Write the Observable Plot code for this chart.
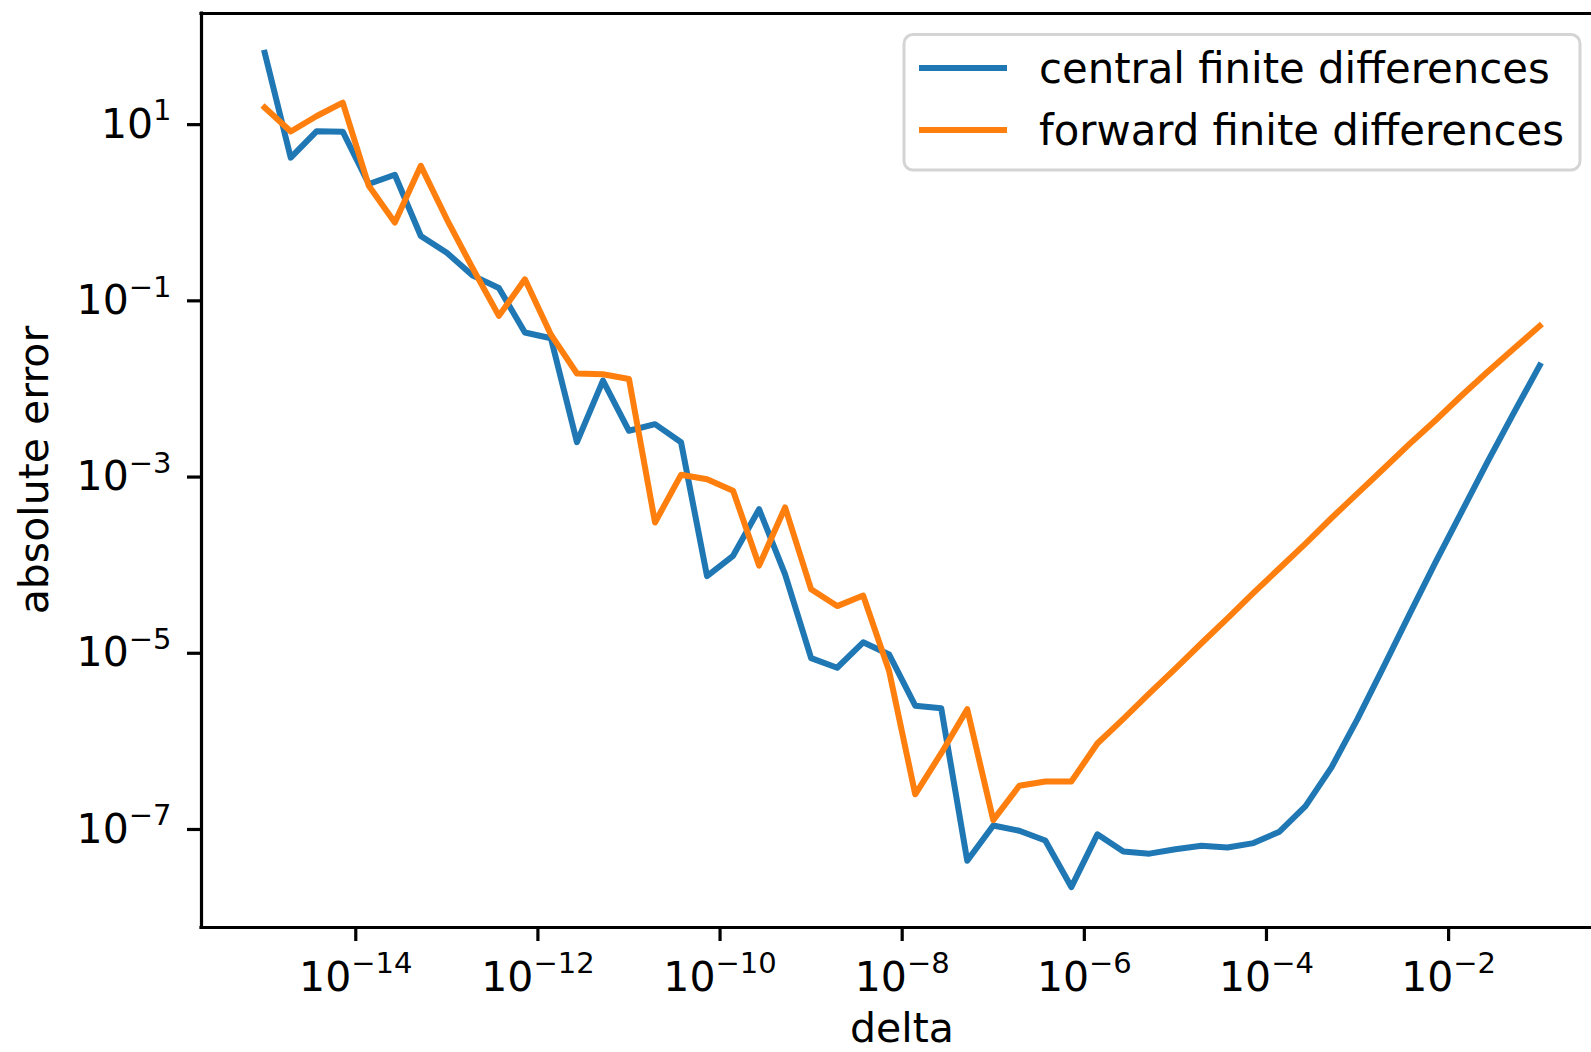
<!DOCTYPE html>
<html><head><meta charset="utf-8">
<script src="https://cdn.jsdelivr.net/npm/d3@7"></script>
<script src="https://cdn.jsdelivr.net/npm/@observablehq/plot@0.6"></script>
<style>
html,body{margin:0;padding:0;background:#fff;}
#chart{position:relative;width:1591px;height:1052px;overflow:hidden;}
svg{display:block;}
</style></head><body><div id="chart"></div>
<script>
// step sizes (delta), 50 points from 1e-15 to 1e-1
const delta = [
  1e-15, 1.931e-15, 3.728e-15, 7.197e-15, 1.390e-14, 2.683e-14, 5.179e-14,
  1e-13, 1.931e-13, 3.728e-13, 7.197e-13, 1.390e-12, 2.683e-12, 5.179e-12,
  1e-11, 1.931e-11, 3.728e-11, 7.197e-11, 1.390e-10, 2.683e-10, 5.179e-10,
  1e-9, 1.931e-9, 3.728e-9, 7.197e-9, 1.390e-8, 2.683e-8, 5.179e-8,
  1e-7, 1.931e-7, 3.728e-7, 7.197e-7, 1.390e-6, 2.683e-6, 5.179e-6,
  1e-5, 1.931e-5, 3.728e-5, 7.197e-5, 1.390e-4, 2.683e-4, 5.179e-4,
  1e-3, 1.931e-3, 3.728e-3, 7.197e-3, 1.390e-2, 2.683e-2, 5.179e-2,
  1e-1
];
// absolute error, central finite differences
const central = [
  58.9, 3.80, 7.59, 7.50, 1.91, 2.43, 0.490,
  0.316, 0.174, 0.126, 0.0394, 0.0339, 0.00224, 0.0112,
  0.00302, 0.00359, 0.00224, 6.76e-5, 1.15e-4, 3.89e-4, 7.08e-5,
  7.94e-6, 6.17e-6, 1.20e-5, 8.71e-6, 2.29e-6, 2.14e-6, 3.98e-8,
  1.00e-7, 8.71e-8, 6.76e-8, 2.00e-8, 7.94e-8, 5.07e-8, 4.79e-8,
  5.37e-8, 5.89e-8, 5.62e-8, 6.31e-8, 8.51e-8, 1.66e-7, 4.57e-7,
  1.62e-6, 6.31e-6, 2.51e-5, 9.77e-5, 3.63e-4, 1.35e-3, 4.79e-3,
  1.66e-2
];
// absolute error, forward finite differences
const forward = [
  14.1, 7.52, 11.3, 16.0, 1.82, 0.697, 3.07,
  0.759, 0.209, 0.0608, 0.158, 0.0372, 0.0135, 0.0132,
  0.0117, 2.75e-4, 9.55e-4, 8.51e-4, 6.31e-4, 8.91e-5, 4.07e-4,
  4.79e-5, 3.09e-5, 4.07e-5, 5.62e-6, 2.26e-7, 6.61e-7, 2.09e-6,
  1.15e-7, 2.82e-7, 3.16e-7, 3.16e-7, 8.51e-7, 1.62e-6, 3.16e-6,
  6.03e-6, 1.17e-5, 2.24e-5, 4.37e-5, 8.32e-5, 1.58e-4, 3.09e-4,
  5.89e-4, 1.12e-3, 2.14e-3, 3.98e-3, 7.59e-3, 1.41e-2, 2.57e-2,
  4.68e-2
];
const seriesNames = ["central finite differences", "forward finite differences"];
const seriesColors = ["#1f77b4", "#ff7f0e"];
const xTicks = [1e-14, 1e-12, 1e-10, 1e-8, 1e-6, 1e-4, 1e-2];
const yTicks = [1e1, 1e-1, 1e-3, 1e-5, 1e-7];
const xLabel = "delta";
const yLabel = "absolute error";

const rows = [];
delta.forEach((d, i) => {
  rows.push({delta: d, err: central[i], method: seriesNames[0]});
  rows.push({delta: d, err: forward[i], method: seriesNames[1]});
});

const xDomain = [Math.pow(10, -15.694), Math.pow(10, -0.431)];
const yDomain = [Math.pow(10, -8.158), Math.pow(10, 2.216)];
const FONT = "DejaVu Sans";
const expFmt = d => "10^" + Math.round(Math.log10(d));

const chart = Plot.plot({
  width: 1591, height: 1052,
  marginLeft: 201, marginRight: 0, marginTop: 13, marginBottom: 125,
  style: {fontFamily: FONT, background: "#fff", color: "#000", overflow: "visible"},
  x: {type: "log", domain: xDomain, label: null},
  y: {type: "log", domain: yDomain, label: null},
  color: {domain: seriesNames, range: seriesColors},
  marks: [
    Plot.line(rows, {x: "delta", y: "err", z: "method", stroke: "method",
      strokeWidth: 6, strokeLinejoin: "round", strokeLinecap: "square"}),
    Plot.axisX({ticks: xTicks, tickSize: 14, tickPadding: 20, fontSize: 41,
      strokeWidth: 3.2, tickFormat: expFmt, label: null}),
    Plot.axisY({ticks: yTicks, tickSize: 14, tickPadding: 16, fontSize: 41,
      strokeWidth: 3.2, tickFormat: expFmt, label: null, dy: 4}),
    Plot.ruleX([xDomain[0]], {strokeWidth: 3.2, strokeLinecap: "square"}),
    Plot.ruleY([yDomain[0]], {strokeWidth: 3.2, strokeLinecap: "square"}),
    Plot.ruleY([yDomain[1]], {strokeWidth: 3.2, strokeLinecap: "square"})
  ]
});
document.getElementById("chart").appendChild(chart);

const svg = d3.select(chart);
// superscript exponents in tick labels
svg.selectAll('g[aria-label="x-axis tick label"] text, g[aria-label="y-axis tick label"] text').each(function() {
  const m = this.textContent.match(/^10\^(-?\d+)$/);
  if (!m) return;
  const exp = m[1].replace("-", "\u2212");
  const el = d3.select(this);
  el.text(null);
  el.append("tspan").text("10");
  el.append("tspan").attr("font-size", "29px").attr("dy", "-0.6em").text(exp);
});

// axis titles
svg.append("text").attr("x", 902).attr("y", 1042).attr("text-anchor", "middle")
  .attr("font-family", FONT).attr("font-size", 41).attr("fill", "#000").text(xLabel);
svg.append("text").attr("transform", "translate(48,470) rotate(-90)").attr("text-anchor", "middle")
  .attr("font-family", FONT).attr("font-size", 41).attr("fill", "#000").text(yLabel);

// legend
const lg = svg.append("g").attr("aria-label", "legend");
lg.append("rect").attr("x", 904).attr("y", 34.5).attr("width", 676).attr("height", 135.5)
  .attr("rx", 9).attr("fill", "#fff").attr("fill-opacity", 0.8)
  .attr("stroke", "#d4d4d4").attr("stroke-width", 3);
const legendY = [68, 130];
seriesNames.forEach((name, i) => {
  lg.append("line").attr("x1", 919).attr("x2", 1007).attr("y1", legendY[i]).attr("y2", legendY[i])
    .attr("stroke", seriesColors[i]).attr("stroke-width", 6).attr("stroke-linecap", "butt");
  lg.append("text").attr("x", 1039).attr("y", legendY[i] + 15).attr("text-anchor", "start")
    .attr("font-family", FONT).attr("font-size", 41.8).attr("fill", "#000").text(name);
});
</script>
</body></html>
